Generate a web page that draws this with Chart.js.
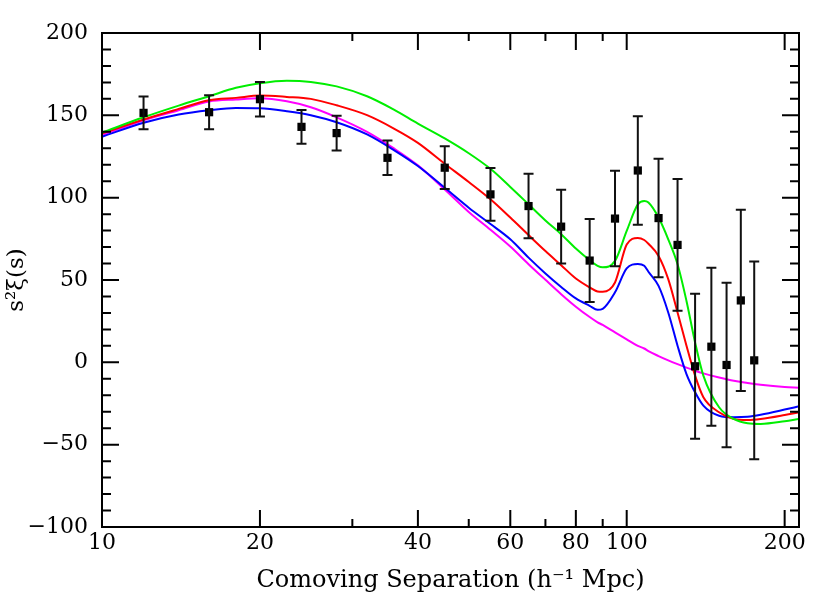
<!DOCTYPE html>
<html>
<head>
<meta charset="utf-8">
<script src="https://cdn.jsdelivr.net/npm/chart.js@4.4.1/dist/chart.umd.min.js"></script>
<style>
    html, body { margin: 0; padding: 0; background: #fff; }
    #wrap { width: 830px; height: 616px; }
</style>
</head>
<body>
<div id="wrap"><canvas id="bao" width="830" height="616"></canvas></div>
<script>
// --- measured correlation function (points with 1-sigma errors) ---
const sepData = [12, 16, 20, 24, 28, 35, 45, 55, 65, 75, 85, 95, 105, 115, 125, 135, 145, 155, 165, 175];
const xiData  = [151.5, 151.9, 159.8, 143, 139.2, 124.2, 118.2, 102, 94.9, 82.4, 61.8, 87.3, 116.5, 87.6, 71.3, -2.4, 9.5, -1.6, 37.6, 1.2];
const xiErr   = [10, 10.3, 10.5, 10.3, 10.6, 10.5, 13, 16, 19.6, 22.4, 25.2, 29, 33, 36, 40, 44, 48, 50, 55, 60];

// --- model curves, sampled at sepModel ---
const sepModel = [10, 12, 14, 16, 18, 20, 22.5, 25, 28, 32, 36, 40, 45, 50, 55, 60, 65, 70, 75, 80,
                  85, 88, 90, 95, 100, 105, 108, 110, 115, 120, 125, 130, 135, 140, 150, 160, 170, 180, 200, 213];
const greenModel = [139.5, 148.8, 155.9, 161.6, 166.7, 169.5, 171, 170.3, 167.6, 161.6, 153.5, 145, 136, 127, 117.5, 106.5, 96, 86.2, 77.8, 69.1,
                    62, 58.6, 57.7, 61.6, 79.8, 95.9, 97.9, 97, 87.9, 74.7, 59.6, 37.3, 12.1, -8.1, -27.3, -34.4, -37, -37.4, -35.8, -34.4];
const redModel   = [139, 147.5, 153.9, 159.2, 160.6, 162, 161.2, 160, 156.1, 150.1, 142, 133.3, 120.6, 109.5, 99, 87.9, 77.3, 67.6, 59, 50.9,
                    45.5, 43, 42.8, 48.5, 71.5, 75.5, 74.3, 72, 64.6, 50.5, 30.3, 10.1, -8.1, -21.2, -30.3, -34.4, -35, -34.4, -32, -30.3];
const blueModel  = [137, 145.5, 150.5, 153.1, 154.5, 154.3, 152.5, 150.1, 145.8, 138.4, 128.9, 119.2, 106, 93.9, 84, 74.7, 63.6, 54, 45.8, 38.8,
                    34.3, 31.9, 32.5, 42.5, 57, 59.7, 58.6, 55, 46.4, 30.3, 10.1, -7.1, -18.2, -26.3, -32.4, -33.3, -33, -31.8, -28.7, -26.7];
const magentaModel = [138, 147, 153.1, 158.4, 159.6, 160.3, 158.5, 154.9, 148.8, 140, 129.9, 119.6, 105, 91.3, 80.5, 70.3, 59.6, 50.1, 41.4, 33.8,
                      27.5, 24.3, 22.7, 18.2, 14, 10, 8.4, 6.8, 3.8, 1.2, -1.1, -3.2, -5.1, -6.7, -9.2, -11.2, -12.5, -13.6, -15, -15.4];

// --- axes ---
const xTickLabels = [10, 20, 40, 60, 80, 100, 200];
const xMinorTicks = [30, 50, 70, 90];
const yTickLabels = [-100, -50, 0, 50, 100, 150, 200];
const yMinorTicks = [-90, -80, -70, -60, -40, -30, -20, -10, 10, 20, 30, 40, 60, 70, 80, 90, 110, 120, 130, 140, 160, 170, 180, 190];

const FONT = 'DejaVu Serif';

function toPoints(xs, ys) {
    return xs.map((x, i) => ({ x: x, y: ys[i] }));
}

function curve(label, color, values) {
    return {
        label: label,
        data: toPoints(sepModel, values),
        showLine: true,
        borderColor: color,
        borderWidth: 2,
        pointRadius: 0,
        cubicInterpolationMode: 'monotone',
        fill: false
    };
}

// frame with inward ticks on all four sides + error bars
const framePlugin = {
    id: 'frame',
    afterDatasetsDraw(chart) {
        const ctx = chart.ctx;
        const xs = chart.scales.x, ys = chart.scales.y;
        ctx.save();
        ctx.strokeStyle = '#111';
        ctx.lineWidth = 2;
        sepData.forEach((s, i) => {
            const px = xs.getPixelForValue(s);
            const top = ys.getPixelForValue(xiData[i] + xiErr[i]);
            const bot = ys.getPixelForValue(xiData[i] - xiErr[i]);
            ctx.beginPath();
            ctx.moveTo(px, top); ctx.lineTo(px, bot);
            ctx.moveTo(px - 5, top); ctx.lineTo(px + 5, top);
            ctx.moveTo(px - 5, bot); ctx.lineTo(px + 5, bot);
            ctx.stroke();
        });
        ctx.restore();
    },
    afterDraw(chart) {
        const ctx = chart.ctx;
        const a = chart.chartArea;
        const xs = chart.scales.x, ys = chart.scales.y;
        ctx.save();
        ctx.strokeStyle = '#000';
        ctx.lineWidth = 2;
        ctx.strokeRect(a.left, a.top, a.right - a.left, a.bottom - a.top);
        ctx.beginPath();
        const xt = (v, len) => {
            const p = xs.getPixelForValue(v);
            ctx.moveTo(p, a.bottom); ctx.lineTo(p, a.bottom - len);
            ctx.moveTo(p, a.top); ctx.lineTo(p, a.top + len);
        };
        const yt = (v, len) => {
            const p = ys.getPixelForValue(v);
            ctx.moveTo(a.left, p); ctx.lineTo(a.left + len, p);
            ctx.moveTo(a.right, p); ctx.lineTo(a.right - len, p);
        };
        xTickLabels.forEach(v => xt(v, 17));
        xMinorTicks.forEach(v => xt(v, 8));
        yTickLabels.forEach(v => yt(v, 17));
        yMinorTicks.forEach(v => yt(v, 9));
        ctx.stroke();
        ctx.restore();
    }
};

new Chart(document.getElementById('bao'), {
    type: 'scatter',
    data: {
        datasets: [
            {
                label: 'data',
                data: toPoints(sepData, xiData),
                pointStyle: 'rect',
                pointRadius: 5.8,
                backgroundColor: '#000',
                borderColor: '#000',
                borderWidth: 0,
                showLine: false
            },
            curve('green', '#00ee00', greenModel),
            curve('red', '#ff0000', redModel),
            curve('blue', '#0000ff', blueModel),
            curve('magenta', '#ff00ff', magentaModel)
        ]
    },
    options: {
        responsive: false,
        animation: false,
        devicePixelRatio: 1,
        layout: { padding: { top: 33, right: 31, left: 0, bottom: 0 } },
        plugins: {
            legend: { display: false },
            tooltip: { enabled: false }
        },
        scales: {
            x: {
                type: 'logarithmic',
                min: 10,
                max: 213,
                grid: { display: false, drawTicks: false },
                border: { display: false },
                afterBuildTicks: (scale) => {
                    scale.ticks = xTickLabels.map(v => ({ value: v }));
                },
                afterFit: (scale) => { scale.height = 89; },
                ticks: {
                    autoSkip: false,
                    maxRotation: 0,
                    padding: 3,
                    color: '#000',
                    font: { family: FONT, size: 22 },
                    callback: (v) => String(v)
                },
                title: {
                    display: true,
                    text: 'Comoving Separation (h\u207B\u00B9 Mpc)',
                    color: '#000',
                    font: { family: FONT, size: 24 },
                    padding: { top: 0, bottom: 21 }
                }
            },
            y: {
                min: -100,
                max: 200,
                grid: { display: false, drawTicks: false },
                border: { display: false },
                afterBuildTicks: (scale) => {
                    scale.ticks = yTickLabels.map(v => ({ value: v }));
                },
                afterFit: (scale) => { scale.width = 102; },
                ticks: {
                    padding: 14,
                    color: '#000',
                    font: { family: FONT, size: 22 },
                    callback: (v) => (v < 0 ? '\u2212' + Math.abs(v) : String(v))
                },
                title: {
                    display: true,
                    text: 's\u00B2\u03BE(s)',
                    color: '#000',
                    font: { family: FONT, size: 23 },
                    padding: { top: 3, bottom: 0 }
                }
            }
        }
    },
    plugins: [framePlugin]
});
</script>
</body>
</html>
